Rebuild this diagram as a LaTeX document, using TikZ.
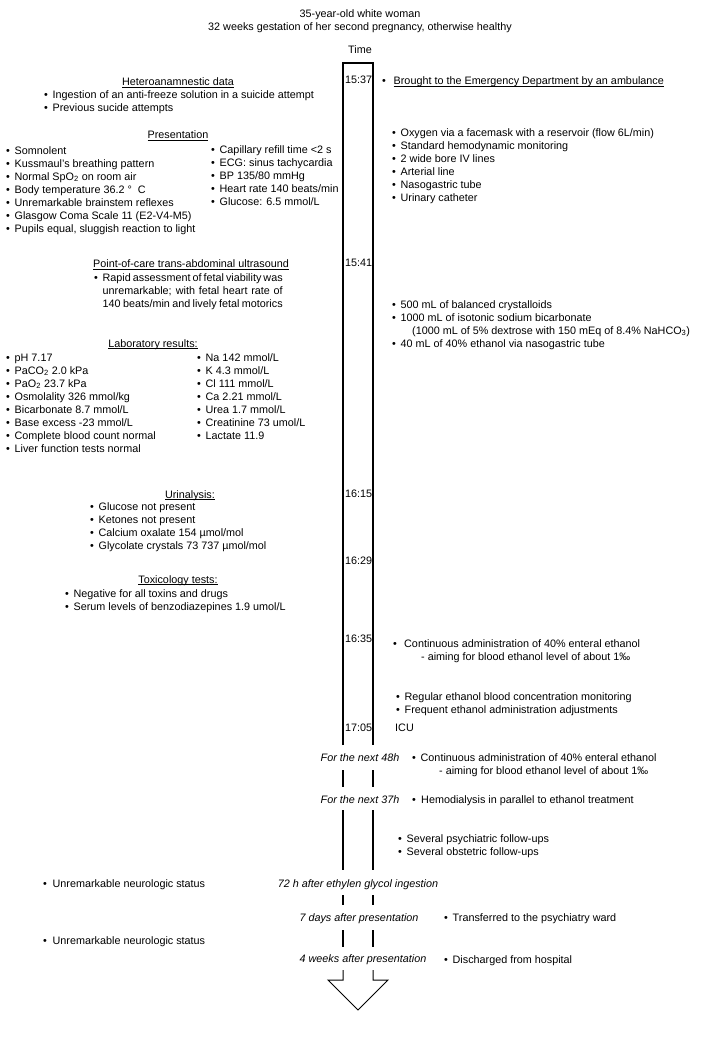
\documentclass[tikz,border=0pt]{standalone}
\usepackage{fontspec}
\setmainfont{Liberation Sans}
\newcommand\fs{\fontsize{10.8}{13}\selectfont}
\newcommand\bu[1][8.5pt]{\strut\makebox[#1][l]{•}}
\newcommand\ulx[1]{\underline{\smash{#1}}}
\begin{document}
\begin{tikzpicture}[x=1pt,y=-1pt,
  txt/.style={inner sep=0pt,font=\fs},
  lst/.style={txt,align=left,anchor=north west},
  lft/.style={txt,anchor=base west},
  ctr/.style={txt,anchor=base},
  tlab/.style={txt,anchor=base west},
  ital/.style={txt,anchor=base,font=\fs\itshape},
  tl/.style={line width=1.3pt},
  arr/.style={line width=1pt},
]
\useasboundingbox (0,0) rectangle (720,1040);

% titles
\node[ctr] (t1) at (360,18) {35-year-old white woman};
\node[ctr] (t2) at (360,31) {32 weeks gestation of her second pregnancy, otherwise healthy};
\node[ctr] (time) at (360,54) {Time};

% timeline
\coordinate (bTL) at (343,63);
\coordinate (bTR) at (373,63);
\coordinate (bL1) at (343,745);
\coordinate (bR1) at (373,745);
\draw[tl] (bL1) -- (bTL) -- (bTR) -- (bR1);
\coordinate (s2La) at (343,770); \coordinate (s2Lb) at (343,787);
\coordinate (s2Ra) at (373,770); \coordinate (s2Rb) at (373,787);
\draw[tl] (s2La) -- (s2Lb); \draw[tl] (s2Ra) -- (s2Rb);
\coordinate (s3La) at (343,810); \coordinate (s3Lb) at (343,870);
\coordinate (s3Ra) at (373,810); \coordinate (s3Rb) at (373,870);
\draw[tl] (s3La) -- (s3Lb); \draw[tl] (s3Ra) -- (s3Rb);
\coordinate (s4La) at (343,895); \coordinate (s4Lb) at (343,905);
\coordinate (s4Ra) at (373,895); \coordinate (s4Rb) at (373,905);
\draw[tl] (s4La) -- (s4Lb); \draw[tl] (s4Ra) -- (s4Rb);
\coordinate (s5La) at (343,930); \coordinate (s5Lb) at (343,947);
\coordinate (s5Ra) at (373,930); \coordinate (s5Rb) at (373,947);
\draw[tl] (s5La) -- (s5Lb); \draw[tl] (s5Ra) -- (s5Rb);
\coordinate (s6La) at (343,970); \coordinate (s6Lb) at (343,980);
\coordinate (s6Ra) at (373,970); \coordinate (s6Rb) at (373,980);
\coordinate (aL) at (328,980); \coordinate (aT) at (358,1010); \coordinate (aR) at (388,980);
\draw[arr] (s6La) -- (s6Lb) -- (aL) -- (aT) -- (aR) -- (s6Rb) -- (s6Ra);

% time labels
\node[tlab] (h1537) at (345,84) {15:37};
\node[tlab] (h1541) at (345,267) {15:41};
\node[tlab] (h1615) at (345,497) {16:15};
\node[tlab] (h1629) at (345,564) {16:29};
\node[tlab] (h1635) at (345,642) {16:35};
\node[tlab] (h1705) at (345,731) {17:05};

% left column
\node[ctr] (hetH) at (178,86) {\ulx{Heteroanamnestic data}};
\node[lst] (hetL) at (44,89) {\bu Ingestion of an anti-freeze solution in a suicide attempt\\
\bu Previous sucide attempts};

\node[ctr] (preH) at (178,139) {\ulx{Presentation}};
\node[lst] (preL) at (6,145) {\bu Somnolent\\
\bu Kussmaul's breathing pattern\\
\bu Normal SpO\textsubscript{2} on room air\\
\bu Body temperature 36.2 °\ \ C\\
\bu Unremarkable brainstem reflexes\\
\bu Glasgow Coma Scale 11 (E2-V4-M5)\\
\bu Pupils equal, sluggish reaction to light};
\node[lst] (preR) at (211,144) {\bu Capillary refill time <2 s\\
\bu ECG: sinus tachycardia\\
\bu BP 135/80 mmHg\\
\bu Heart rate 140 beats/min\\
\bu Glucose: 6.5 mmol/L};

\node[ctr] (usH) at (191,268) {\ulx{Point-of-care trans-abdominal ultrasound}};
\node[lst] (usL) at (94,272) {\bu\makebox[180pt][s]{Rapid assessment of fetal viability was}\\
\strut\hspace*{8.5pt}\makebox[180pt][s]{unremarkable; with fetal heart rate of}\\
\strut\hspace*{8.5pt}\makebox[180pt][s]{140 beats/min and lively fetal motorics}};

\node[ctr] (labH) at (153,347) {\ulx{Laboratory results:}};
\node[lst] (labL) at (6,352) {\bu pH 7.17\\
\bu PaCO\textsubscript{2} 2.0 kPa\\
\bu PaO\textsubscript{2} 23.7 kPa\\
\bu Osmolality 326 mmol/kg\\
\bu Bicarbonate 8.7 mmol/L\\
\bu Base excess -23 mmol/L\\
\bu Complete blood count normal\\
\bu Liver function tests normal};
\node[lst] (labR) at (197,352) {\bu Na 142 mmol/L\\
\bu K 4.3 mmol/L\\
\bu Cl 111 mmol/L\\
\bu Ca 2.21 mmol/L\\
\bu Urea 1.7 mmol/L\\
\bu Creatinine 73 umol/L\\
\bu Lactate 11.9};

\node[ctr] (uriH) at (190,498) {\ulx{Urinalysis:}};
\node[lst] (uriL) at (90,501) {\bu Glucose not present\\
\bu Ketones not present\\
\bu Calcium oxalate 154 µmol/mol\\
\bu Glycolate crystals 73 737 µmol/mol};

\node[ctr] (toxH) at (178,583) {\ulx{Toxicology tests:}};
\node[lst] (toxL) at (65,588) {\bu Negative for all toxins and drugs\\
\bu Serum levels of benzodiazepines 1.9 umol/L};

% right column
\node[lft] (amb) at (382,85) {\makebox[11.5pt][l]{•}\ulx{Brought to the Emergency Department by an ambulance}};
\node[lst] (rx1) at (392,127) {\bu Oxygen via a facemask with a reservoir (flow 6L/min)\\
\bu Standard hemodynamic monitoring\\
\bu 2 wide bore IV lines\\
\bu Arterial line\\
\bu Nasogastric tube\\
\bu Urinary catheter};
\node[lst] (rx2) at (392,299) {\bu 500 mL of balanced crystalloids\\
\bu 1000 mL of isotonic sodium bicarbonate\\
\strut\hspace*{20pt}(1000 mL of 5\% dextrose with 150 mEq of 8.4\% NaHCO\textsubscript{3})\\
\bu 40 mL of 40\% ethanol via nasogastric tube};
\node[lst] (rx3) at (393,638) {\bu[11pt]Continuous administration of 40\% enteral ethanol\\
\strut\hspace*{28pt}- aiming for blood ethanol level of about 1‰};
\node[lst] (rx4) at (396,691) {\bu Regular ethanol blood concentration monitoring\\
\bu Frequent ethanol administration adjustments};
\node[lft] (icu) at (395,731) {ICU};

% bottom part
\node[ital] (n48) at (360,761) {For the next 48h};
\node[lst] (rx5) at (412,752) {\bu Continuous administration of 40\% enteral ethanol\\
\strut\hspace*{27pt}- aiming for blood ethanol level of about 1‰};
\node[ital] (n37) at (360,803) {For the next 37h};
\node[lft] (hd) at (412,803) {\makebox[9pt][l]{•}Hemodialysis in parallel to ethanol treatment};
\node[lst] (fu) at (398,833) {\bu Several psychiatric follow-ups\\
\bu Several obstetric follow-ups};
\node[ital] (n72) at (358,887) {72 h after ethylen glycol ingestion};
\node[lft] (neu1) at (43,887) {\makebox[9.5pt][l]{•}Unremarkable neurologic status};
\node[ital] (n7d) at (359,921) {7 days after presentation};
\node[lft] (psy) at (444,921) {\makebox[8.5pt][l]{•}Transferred to the psychiatry ward};
\node[lft] (neu2) at (43,944) {\makebox[9.5pt][l]{•}Unremarkable neurologic status};
\node[ital] (n4w) at (363,962) {4 weeks after presentation};
\node[lft] (dis) at (444,963) {\makebox[8.5pt][l]{•}Discharged from hospital};
\end{tikzpicture}
\end{document}
